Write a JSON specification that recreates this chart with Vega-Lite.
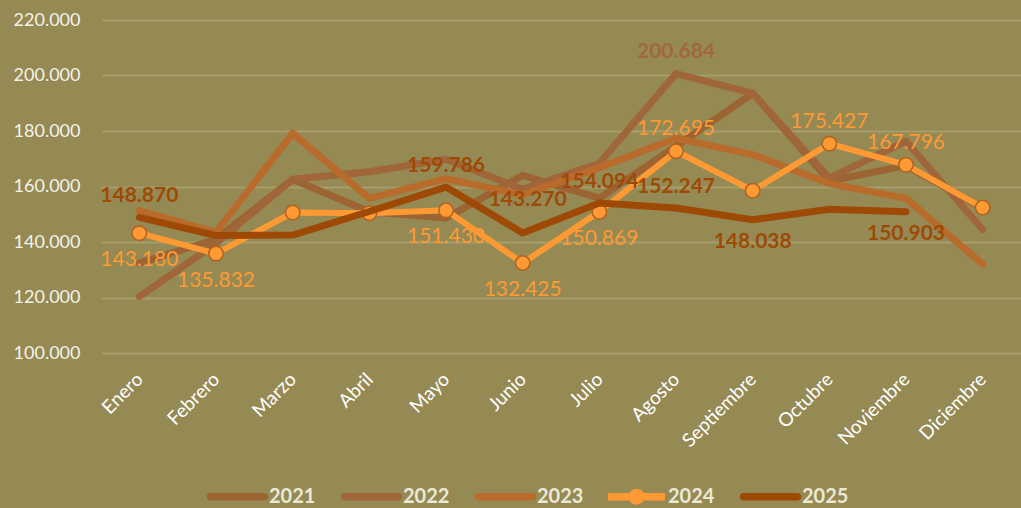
{
  "$schema": "https://vega.github.io/schema/vega-lite/v6.json",
  "width": 920,
  "height": 333,
  "autosize": {"type": "none"},
  "padding": {"left": 101, "top": 20, "right": 0, "bottom": 155},
  "background": "#958a54",
  "config": {
    "view": {"stroke": null},
    "font": "Lato",
    "locale": {"number": {"decimal": ",", "thousands": ".", "grouping": [3], "currency": ["", " €"]}}
  },
  "data": {"values": [
    {"month": "Enero", "year": "2021", "value": 132400},
    {"month": "Febrero", "year": "2021", "value": 141000},
    {"month": "Marzo", "year": "2021", "value": 162600},
    {"month": "Abril", "year": "2021", "value": 150900},
    {"month": "Mayo", "year": "2021", "value": 148600},
    {"month": "Junio", "year": "2021", "value": 164000},
    {"month": "Julio", "year": "2021", "value": 155800},
    {"month": "Agosto", "year": "2021", "value": 174500},
    {"month": "Septiembre", "year": "2021", "value": 193600},
    {"month": "Octubre", "year": "2021", "value": 162000},
    {"month": "Noviembre", "year": "2021", "value": 167500},
    {"month": "Diciembre", "year": "2021", "value": 152200},
    {"month": "Enero", "year": "2022", "value": 120300},
    {"month": "Febrero", "year": "2022", "value": 139500},
    {"month": "Marzo", "year": "2022", "value": 162600},
    {"month": "Abril", "year": "2022", "value": 165300},
    {"month": "Mayo", "year": "2022", "value": 169800},
    {"month": "Junio", "year": "2022", "value": 159000},
    {"month": "Julio", "year": "2022", "value": 168400},
    {"month": "Agosto", "year": "2022", "value": 200684},
    {"month": "Septiembre", "year": "2022", "value": 193600},
    {"month": "Octubre", "year": "2022", "value": 163000},
    {"month": "Noviembre", "year": "2022", "value": 176300},
    {"month": "Diciembre", "year": "2022", "value": 144500},
    {"month": "Enero", "year": "2023", "value": 151300},
    {"month": "Febrero", "year": "2023", "value": 143500},
    {"month": "Marzo", "year": "2023", "value": 179200},
    {"month": "Abril", "year": "2023", "value": 155700},
    {"month": "Mayo", "year": "2023", "value": 162800},
    {"month": "Junio", "year": "2023", "value": 157000},
    {"month": "Julio", "year": "2023", "value": 166800},
    {"month": "Agosto", "year": "2023", "value": 177400},
    {"month": "Septiembre", "year": "2023", "value": 171500},
    {"month": "Octubre", "year": "2023", "value": 161100},
    {"month": "Noviembre", "year": "2023", "value": 155700},
    {"month": "Diciembre", "year": "2023", "value": 132000},
    {"month": "Enero", "year": "2024", "value": 143180},
    {"month": "Febrero", "year": "2024", "value": 135832},
    {"month": "Marzo", "year": "2024", "value": 150600},
    {"month": "Abril", "year": "2024", "value": 150400},
    {"month": "Mayo", "year": "2024", "value": 151430},
    {"month": "Junio", "year": "2024", "value": 132425},
    {"month": "Julio", "year": "2024", "value": 150869},
    {"month": "Agosto", "year": "2024", "value": 172695},
    {"month": "Septiembre", "year": "2024", "value": 158500},
    {"month": "Octubre", "year": "2024", "value": 175427},
    {"month": "Noviembre", "year": "2024", "value": 167796},
    {"month": "Diciembre", "year": "2024", "value": 152400},
    {"month": "Enero", "year": "2025", "value": 148870},
    {"month": "Febrero", "year": "2025", "value": 142300},
    {"month": "Marzo", "year": "2025", "value": 142500},
    {"month": "Abril", "year": "2025", "value": 151000},
    {"month": "Mayo", "year": "2025", "value": 159786},
    {"month": "Junio", "year": "2025", "value": 143270},
    {"month": "Julio", "year": "2025", "value": 154094},
    {"month": "Agosto", "year": "2025", "value": 152247},
    {"month": "Septiembre", "year": "2025", "value": 148038},
    {"month": "Octubre", "year": "2025", "value": 151800},
    {"month": "Noviembre", "year": "2025", "value": 150903}
  ]},
  "encoding": {
    "x": {
      "field": "month", "type": "nominal", "title": null,
      "sort": ["Enero","Febrero","Marzo","Abril","Mayo","Junio","Julio","Agosto","Septiembre","Octubre","Noviembre","Diciembre"],
      "scale": {"domain": ["Enero","Febrero","Marzo","Abril","Mayo","Junio","Julio","Agosto","Septiembre","Octubre","Noviembre","Diciembre"]},
      "axis": {"labelAngle": -45, "labelAlign": "right", "labelBaseline": "middle", "labelPadding": 23, "labelColor": "#ffffff", "labelFontSize": 19, "domain": false, "ticks": false, "grid": false}
    },
    "y": {
      "field": "value", "type": "quantitative", "title": null,
      "scale": {"domain": [100000, 220000], "nice": false, "zero": false},
      "axis": {"values": [100000,120000,140000,160000,180000,200000,220000], "format": ",.0f", "labelColor": "#f4f2e8", "labelFontSize": 18, "labelPadding": 21, "domain": false, "ticks": false, "gridColor": "#a69d6b", "gridWidth": 2}
    },
    "color": {
      "field": "year", "type": "nominal",
      "scale": {"domain": ["2021","2022","2023","2024","2025"], "range": ["#9c6433","#a0663a","#b86b2b","#ff9933","#9e4a06"]},
      "legend": {
        "title": null, "orient": "none", "direction": "horizontal", "legendX": 108, "legendY": 448,
        "symbolSize": 3249, "labelFontSize": 20, "labelFontWeight": "bold", "labelColor": "#ebe8d6", "labelOffset": 3, "columnPadding": 24,
        "encode": {"symbols": {"update": {
          "shape": {"signal": "datum.value === '2024' ? 'M-1,-0.13H1V0.13H-1Z M-0.28,0 A0.28,0.28 0 1,1 0.28,0 A0.28,0.28 0 1,1 -0.28,0 Z' : 'M-0.95,-0.13H0.95A0.13,0.13 0 0,1 0.95,0.13H-0.95A0.13,0.13 0 0,1 -0.95,-0.13Z'"},
          "fill": {"scale": "color", "field": "value"},
          "stroke": {"value": "transparent"},
          "strokeWidth": {"value": 0},
          "opacity": {"value": 1}
        }}}
      }
    }
  },
  "layer": [
    {"transform": [{"filter": "datum.year == '2021' || datum.year == '2022' || datum.year == '2023'"}],
     "mark": {"type": "line", "strokeWidth": 7, "strokeCap": "round", "strokeJoin": "round"}},
    {"transform": [{"filter": "datum.year == '2024'"}],
     "mark": {"type": "line", "strokeWidth": 6, "strokeCap": "round", "strokeJoin": "round"}},
    {"transform": [{"filter": "datum.year == '2024'"}],
     "mark": {"type": "point", "filled": true, "size": 210, "stroke": "#b0621f", "strokeWidth": 1.5, "opacity": 1}},
    {"transform": [{"filter": "datum.year == '2025'"}],
     "mark": {"type": "line", "strokeWidth": 7, "strokeCap": "round", "strokeJoin": "round"}},
    {"transform": [{"filter": "datum.year == '2022' && datum.month == 'Agosto'"}],
     "mark": {"type": "text", "dy": -22, "fontSize": 21, "fontWeight": "bold", "baseline": "middle"},
     "encoding": {"text": {"field": "value", "type": "quantitative", "format": ",.0f"}, "color": {"value": "#a0683c"}}},
    {"transform": [{"filter": "datum.year == '2024' && indexof(['Agosto','Octubre','Noviembre'], datum.month) >= 0"}],
     "mark": {"type": "text", "dy": -22, "fontSize": 21, "baseline": "middle"},
     "encoding": {"text": {"field": "value", "type": "quantitative", "format": ",.0f"}, "color": {"value": "#ff9933"}}},
    {"transform": [{"filter": "datum.year == '2024' && indexof(['Enero','Febrero','Mayo','Junio','Julio'], datum.month) >= 0"}],
     "mark": {"type": "text", "dy": 27, "fontSize": 21, "baseline": "middle"},
     "encoding": {"text": {"field": "value", "type": "quantitative", "format": ",.0f"}, "color": {"value": "#ff9933"}}},
    {"transform": [{"filter": "datum.year == '2025' && indexof(['Enero','Mayo','Julio','Agosto'], datum.month) >= 0"}],
     "mark": {"type": "text", "dy": -21, "fontSize": 21, "fontWeight": "bold", "baseline": "middle"},
     "encoding": {"text": {"field": "value", "type": "quantitative", "format": ",.0f"}, "color": {"value": "#9e4a06"}}},
    {"transform": [{"filter": "datum.year == '2025' && datum.month == 'Junio'"}],
     "mark": {"type": "text", "dy": -33, "dx": 5, "fontSize": 21, "fontWeight": "bold", "baseline": "middle"},
     "encoding": {"text": {"field": "value", "type": "quantitative", "format": ",.0f"}, "color": {"value": "#9e4a06"}}},
    {"transform": [{"filter": "datum.year == '2025' && indexof(['Septiembre','Noviembre'], datum.month) >= 0"}],
     "mark": {"type": "text", "dy": 22, "fontSize": 21, "fontWeight": "bold", "baseline": "middle"},
     "encoding": {"text": {"field": "value", "type": "quantitative", "format": ",.0f"}, "color": {"value": "#9e4a06"}}}
  ]
}
